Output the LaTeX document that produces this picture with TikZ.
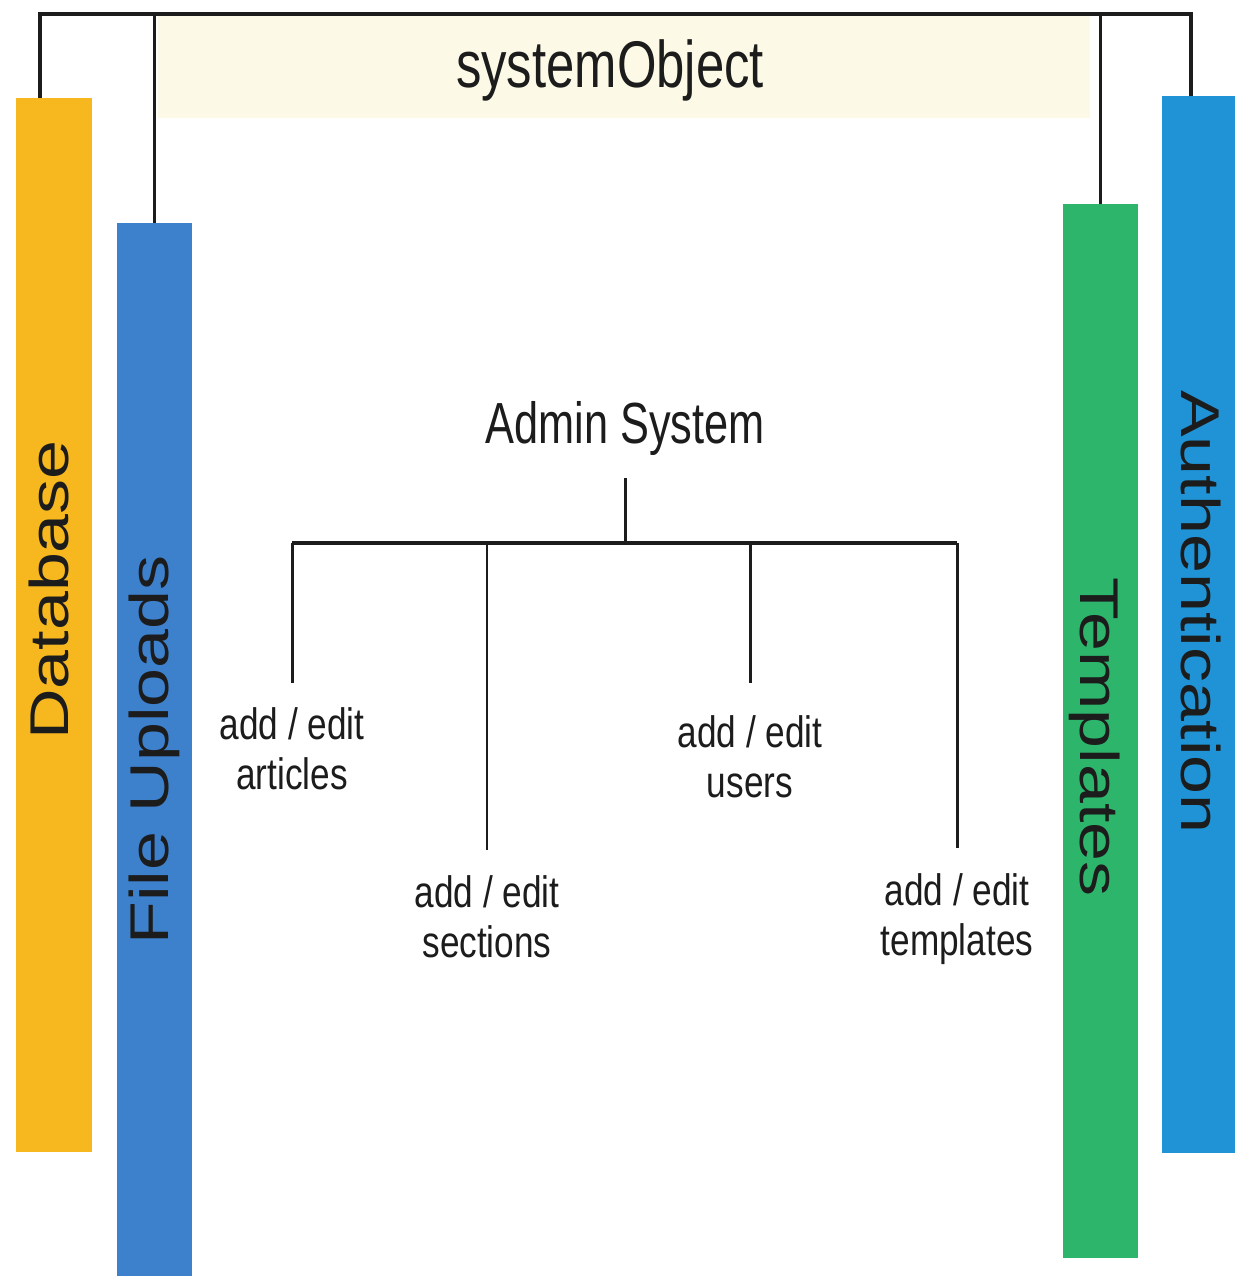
\documentclass[tikz,border=0pt]{standalone}
\usepackage{fontspec}
\setmainfont{Liberation Sans}
\usepackage{xcolor}
\usetikzlibrary{positioning}
\definecolor{dbyellow}{HTML}{F6B71F}
\definecolor{upblue}{HTML}{3D80CC}
\definecolor{tplgreen}{HTML}{2EB56C}
\definecolor{authblue}{HTML}{1F93D6}
\definecolor{bandcream}{HTML}{FCFAE6}
\definecolor{inkgray}{HTML}{1C1C1C}
\tikzset{
    bar/.style={rectangle, inner sep=0pt, anchor=north, minimum width=75pt},
    barlabel/.style={inner sep=0pt, anchor=base, text=inkgray, font=\fontsize{70}{74}\selectfont},
    title/.style={inner sep=0pt, anchor=base, text=inkgray, xscale=0.77, font=\fontsize{66}{70}\selectfont},
    leaf/.style={inner sep=0pt, anchor=north, align=center, text=inkgray, xscale=0.8, font=\fontsize{44}{50}\selectfont},
    link/.style={line width=3pt, draw=inkgray},
}

\begin{document}
\begin{tikzpicture}[x=1pt, y=-1pt]
        \fill[white] (0,0) rectangle (1239,1281);
        \useasboundingbox (0,0) rectangle (1239,1281);

        % Header band
        \node [rectangle, fill=bandcream, inner sep=0pt, anchor=north west, minimum width=932pt, minimum height=102pt] (band) at (158,16) {};
        \node [title] (sysobj) at (610,88) {systemObject};

        % Side bars
        \node [bar, fill=dbyellow, minimum width=76pt, minimum height=1054pt] (db) at (54,98) {};
        \node [bar, fill=upblue, minimum height=1053pt] (files) at (154.5,223) {};
        \node [bar, fill=tplgreen, minimum height=1054pt] (tmpl) at (1100,204) {};
        \node [bar, fill=authblue, minimum width=73pt, minimum height=1057pt] (auth) at (1198.5,96) {};

        \node [barlabel, rotate=90, yscale=0.78] (dbtext) at (68,590) {Database};
        \node [barlabel, rotate=90, yscale=0.78] (filestext) at (168,750) {File Uploads};
        \node [barlabel, rotate=-90, yscale=0.78] (tmpltext) at (1080,737) {Templates};
        \node [barlabel, rotate=-90, yscale=0.78] (authtext) at (1181,612) {Authentication};

        % Bracket
        \coordinate (brl) at (40,14);
        \coordinate (brr) at (1191,14);
        \draw [link, line width=3.5pt] (db.north -| brl) -- (brl) -- (brr) -- (auth.north -| brr);
        \draw [link] (files.north) -- (files.north |- brl);
        \draw [link] (tmpl.north) -- (tmpl.north |- brl);

        % Admin tree
        \node [title, xscale=0.97, font=\fontsize{58}{62}\selectfont] (admin) at (625,443) {Admin System};
        \coordinate (hub) at (625,543);
        \node [leaf] (art) at (292,707) {add / edit\\articles};
        \node [leaf] (sec) at (487,875) {add / edit\\sections};
        \node [leaf] (usr) at (750,715) {add / edit\\users};
        \node [leaf] (tpl) at (957,873) {add / edit\\templates};

        \draw [link] ([yshift=-23pt]admin.south) -- (hub);
        \draw [link, line width=3.5pt] (art |- hub) -- (tpl |- hub);
        \draw [link] (art |- hub) -- ([yshift=24pt]art.north);
        \draw [link, line width=2pt] (sec |- hub) -- ([yshift=25pt]sec.north);
        \draw [link] (usr |- hub) -- ([yshift=32pt]usr.north);
        \draw [link] (tpl |- hub) -- ([yshift=25pt]tpl.north);
    \end{tikzpicture}
\end{document}
